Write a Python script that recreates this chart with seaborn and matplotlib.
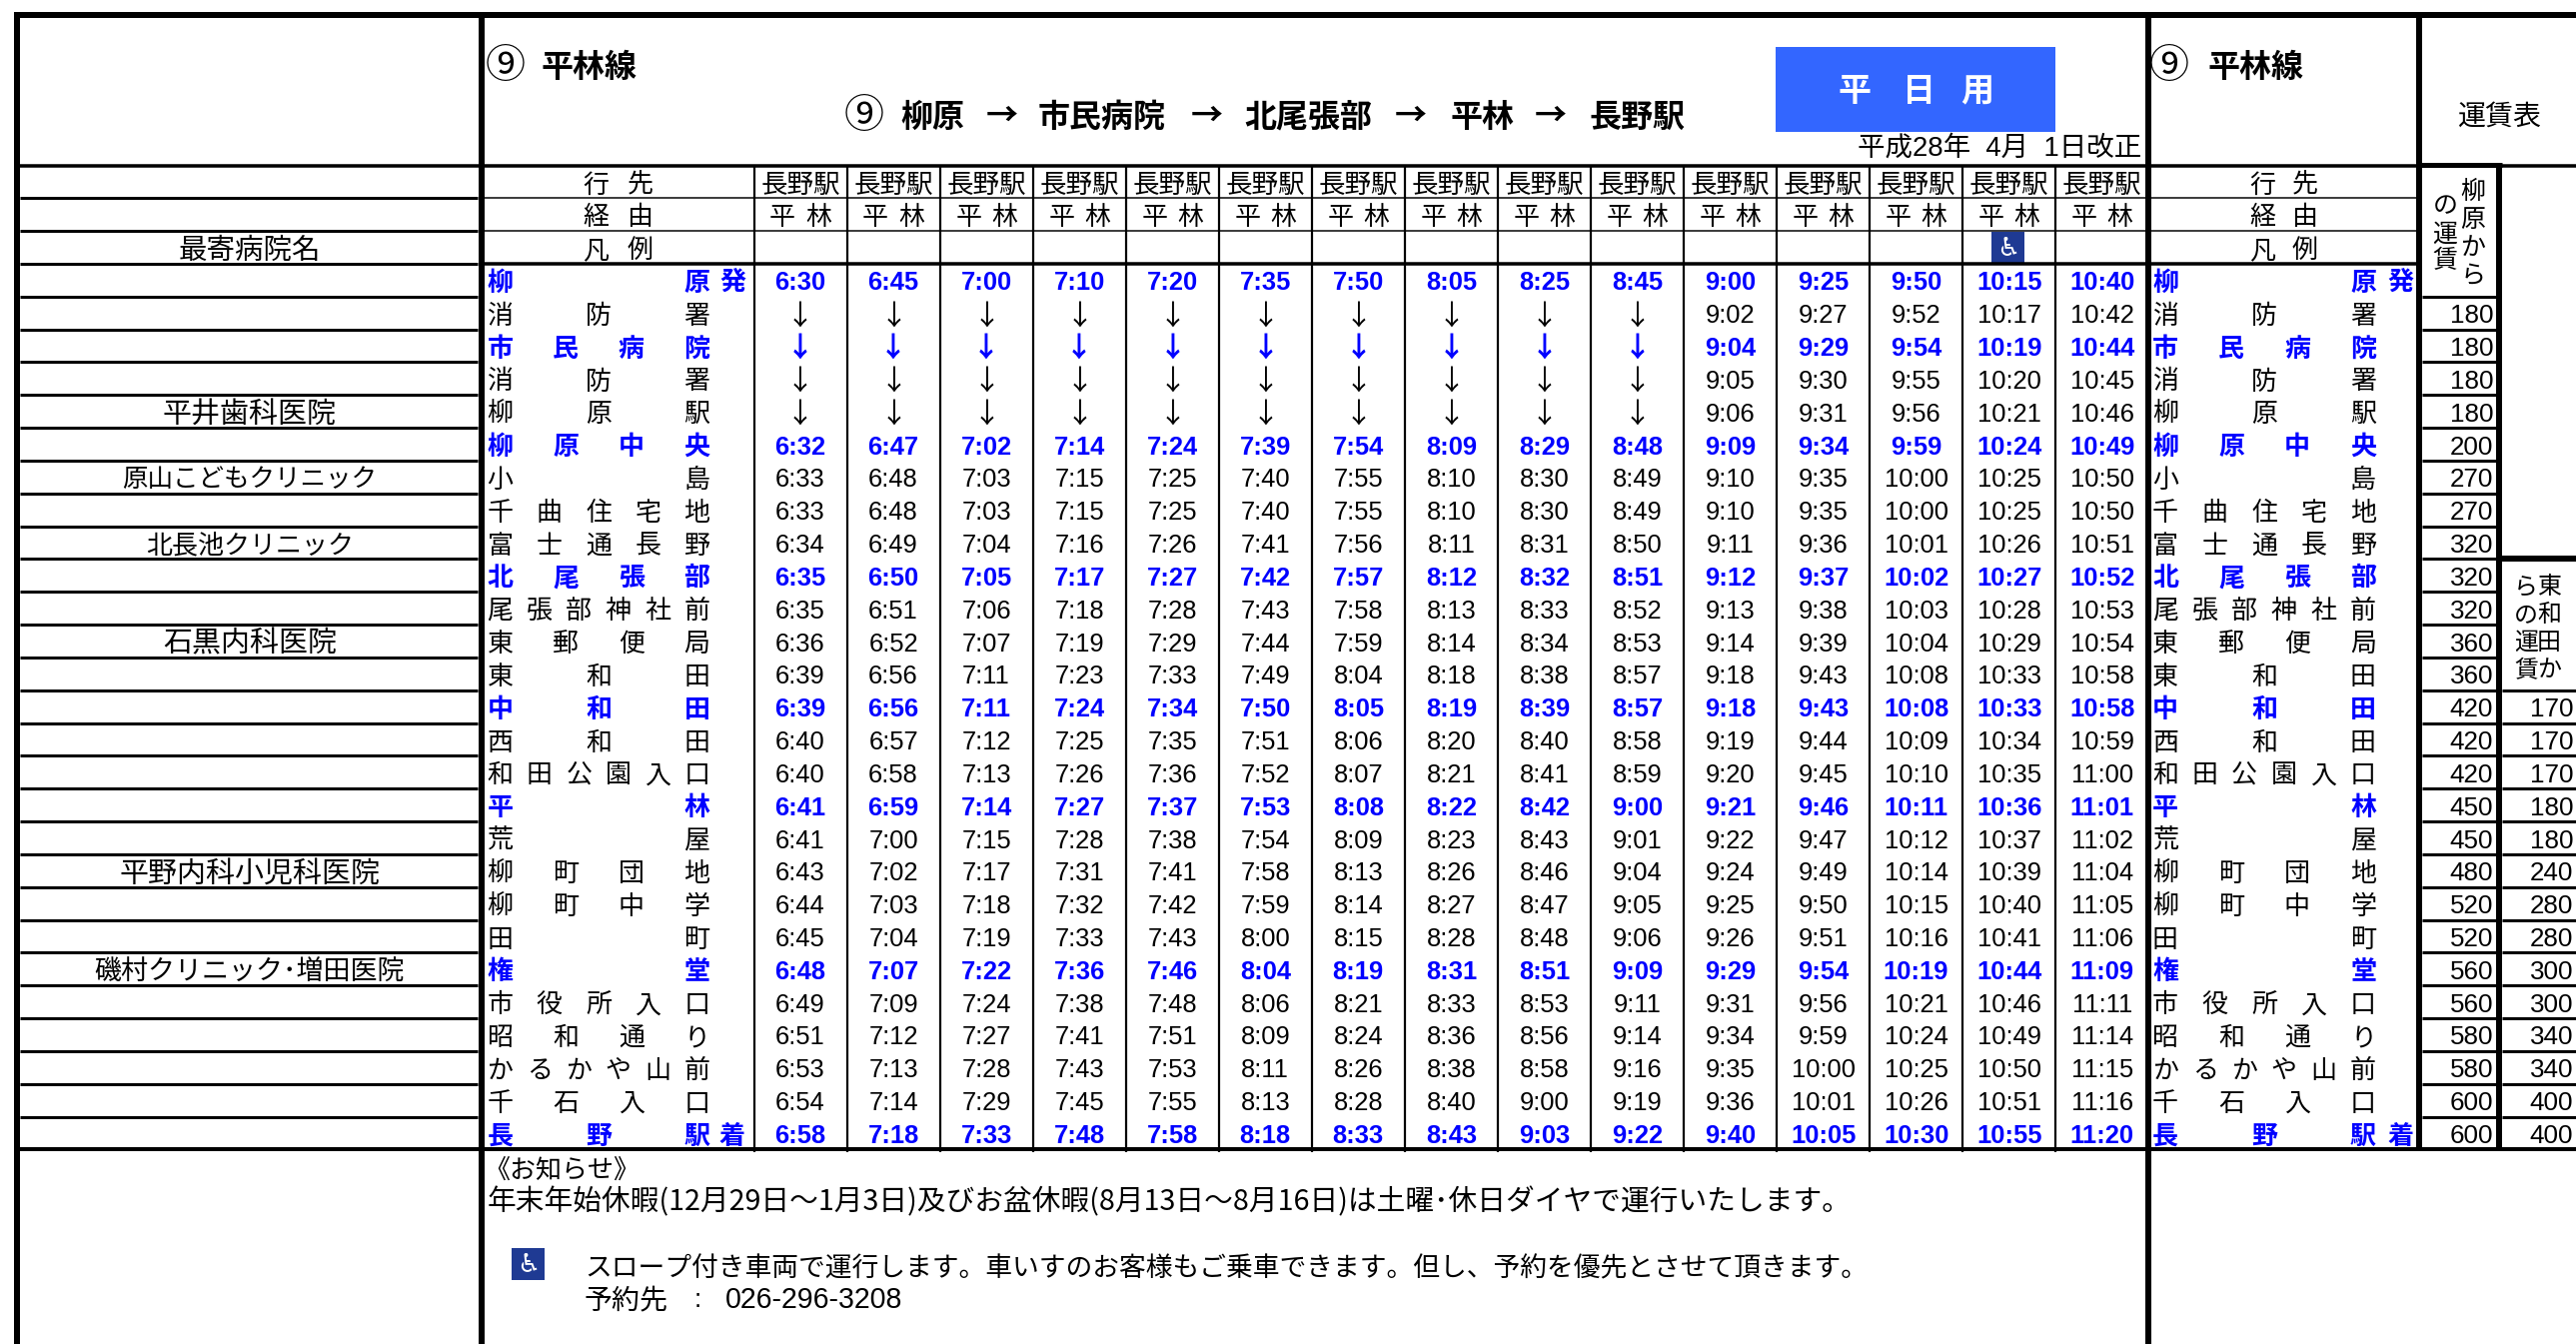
import numpy as np
import matplotlib
matplotlib.use('Agg')
import matplotlib.pyplot as plt
from matplotlib.colors import ListedColormap
from matplotlib.patches import Rectangle
import seaborn as sns

W, H = 2578, 1345
DPI = 100

# --- timetable data, "-" means the bus passes without a listed time ---
destinations = ['長野駅'] * 15
via = ['平林'] * 15
stations = ['柳原', '消防署', '市民病院', '消防署', '柳原駅', '柳原中央', '小島', '千曲住宅地', '富士通長野',
            '北尾張部', '尾張部神社前', '東郵便局', '東和田', '中和田', '西和田', '和田公園入口', '平林', '荒屋',
            '柳町団地', '柳町中学', '田町', '権堂', '市役所入口', '昭和通り', 'かるかや山前', '千石入口', '長野駅']
main_stops = [0, 2, 5, 9, 13, 16, 21, 26]

trip_01 = ['6:30', '-', '-', '-', '-', '6:32', '6:33', '6:33', '6:34', '6:35', '6:35', '6:36', '6:39', '6:39', '6:40', '6:40', '6:41', '6:41', '6:43', '6:44', '6:45', '6:48', '6:49', '6:51', '6:53', '6:54', '6:58']
trip_02 = ['6:45', '-', '-', '-', '-', '6:47', '6:48', '6:48', '6:49', '6:50', '6:51', '6:52', '6:56', '6:56', '6:57', '6:58', '6:59', '7:00', '7:02', '7:03', '7:04', '7:07', '7:09', '7:12', '7:13', '7:14', '7:18']
trip_03 = ['7:00', '-', '-', '-', '-', '7:02', '7:03', '7:03', '7:04', '7:05', '7:06', '7:07', '7:11', '7:11', '7:12', '7:13', '7:14', '7:15', '7:17', '7:18', '7:19', '7:22', '7:24', '7:27', '7:28', '7:29', '7:33']
trip_04 = ['7:10', '-', '-', '-', '-', '7:14', '7:15', '7:15', '7:16', '7:17', '7:18', '7:19', '7:23', '7:24', '7:25', '7:26', '7:27', '7:28', '7:31', '7:32', '7:33', '7:36', '7:38', '7:41', '7:43', '7:45', '7:48']
trip_05 = ['7:20', '-', '-', '-', '-', '7:24', '7:25', '7:25', '7:26', '7:27', '7:28', '7:29', '7:33', '7:34', '7:35', '7:36', '7:37', '7:38', '7:41', '7:42', '7:43', '7:46', '7:48', '7:51', '7:53', '7:55', '7:58']
trip_06 = ['7:35', '-', '-', '-', '-', '7:39', '7:40', '7:40', '7:41', '7:42', '7:43', '7:44', '7:49', '7:50', '7:51', '7:52', '7:53', '7:54', '7:58', '7:59', '8:00', '8:04', '8:06', '8:09', '8:11', '8:13', '8:18']
trip_07 = ['7:50', '-', '-', '-', '-', '7:54', '7:55', '7:55', '7:56', '7:57', '7:58', '7:59', '8:04', '8:05', '8:06', '8:07', '8:08', '8:09', '8:13', '8:14', '8:15', '8:19', '8:21', '8:24', '8:26', '8:28', '8:33']
trip_08 = ['8:05', '-', '-', '-', '-', '8:09', '8:10', '8:10', '8:11', '8:12', '8:13', '8:14', '8:18', '8:19', '8:20', '8:21', '8:22', '8:23', '8:26', '8:27', '8:28', '8:31', '8:33', '8:36', '8:38', '8:40', '8:43']
trip_09 = ['8:25', '-', '-', '-', '-', '8:29', '8:30', '8:30', '8:31', '8:32', '8:33', '8:34', '8:38', '8:39', '8:40', '8:41', '8:42', '8:43', '8:46', '8:47', '8:48', '8:51', '8:53', '8:56', '8:58', '9:00', '9:03']
trip_10 = ['8:45', '-', '-', '-', '-', '8:48', '8:49', '8:49', '8:50', '8:51', '8:52', '8:53', '8:57', '8:57', '8:58', '8:59', '9:00', '9:01', '9:04', '9:05', '9:06', '9:09', '9:11', '9:14', '9:16', '9:19', '9:22']
trip_11 = ['9:00', '9:02', '9:04', '9:05', '9:06', '9:09', '9:10', '9:10', '9:11', '9:12', '9:13', '9:14', '9:18', '9:18', '9:19', '9:20', '9:21', '9:22', '9:24', '9:25', '9:26', '9:29', '9:31', '9:34', '9:35', '9:36', '9:40']
trip_12 = ['9:25', '9:27', '9:29', '9:30', '9:31', '9:34', '9:35', '9:35', '9:36', '9:37', '9:38', '9:39', '9:43', '9:43', '9:44', '9:45', '9:46', '9:47', '9:49', '9:50', '9:51', '9:54', '9:56', '9:59', '10:00', '10:01', '10:05']
trip_13 = ['9:50', '9:52', '9:54', '9:55', '9:56', '9:59', '10:00', '10:00', '10:01', '10:02', '10:03', '10:04', '10:08', '10:08', '10:09', '10:10', '10:11', '10:12', '10:14', '10:15', '10:16', '10:19', '10:21', '10:24', '10:25', '10:26', '10:30']
trip_14 = ['10:15', '10:17', '10:19', '10:20', '10:21', '10:24', '10:25', '10:25', '10:26', '10:27', '10:28', '10:29', '10:33', '10:33', '10:34', '10:35', '10:36', '10:37', '10:39', '10:40', '10:41', '10:44', '10:46', '10:49', '10:50', '10:51', '10:55']
trip_15 = ['10:40', '10:42', '10:44', '10:45', '10:46', '10:49', '10:50', '10:50', '10:51', '10:52', '10:53', '10:54', '10:58', '10:58', '10:59', '11:00', '11:01', '11:02', '11:04', '11:05', '11:06', '11:09', '11:11', '11:14', '11:15', '11:16', '11:20']

# fares from 柳原 (starts at the 2nd stop) and from 東和田 (starts at 中和田)
fares_yanagihara = [180, 180, 180, 180, 200, 270, 270, 320, 320, 320, 360, 360, 420, 420, 420, 450, 450, 480, 520, 520, 560, 560, 580, 580, 600, 600]
fares_higashiwada = [170, 170, 170, 180, 180, 240, 280, 280, 300, 300, 340, 340, 400, 400]

# hospital name -> row in the table (0 = 行先)
hospitals = ['最寄病院名', '平井歯科医院', '原山こどもクリニック', '北長池クリニック', '石黒内科医院', '平野内科小児科医院', '磯村クリニック･増田医院']
hospital_rows = [2, 7, 9, 11, 14, 21, 24]

notice_title = '《お知らせ》'
notice_holiday = '年末年始休暇(12月29日～1月3日)及びお盆休暇(8月13日～8月16日)は土曜･休日ダイヤで運行いたします。'
notice_slope = 'スロープ付き車両で運行します。車いすのお客様もご乗車できます。但し、予約を優先とさせて頂きます。'

# --- layout in pixels of the final image ---
ROW0 = 165.5
ROW_H = 32.83
COL0 = 754.5
COL_W = 93.05
TEXT_DY = 3  # text with va=center sits this much too high
BLUE = '#0000FF'
JP = ['Noto Sans CJK JP', 'DejaVu Sans']
MIX = ['Liberation Sans', 'Noto Sans CJK JP', 'DejaVu Sans']

sns.set_theme(style='white')
plt.rcParams['font.family'] = JP


def pt(px):
    return px * 72 / DPI


def row_y(k):
    return ROW0 + k * ROW_H


def pixel_axes(x0, y0, x1, y1):
    return fig.add_axes([x0 / W, 1 - y1 / H, (x1 - x0) / W, (y1 - y0) / H])


def white_heatmap(ax, values, labels, fmt, size):
    sns.heatmap(values, ax=ax, cbar=False, annot=labels, fmt=fmt, cmap=ListedColormap(['white']),
                xticklabels=False, yticklabels=False,
                annot_kws={'fontsize': pt(size), 'family': MIX, 'color': 'black'})
    for t in ax.texts:
        t.set_y(t.get_position()[1] + TEXT_DY / ROW_H)


def minutes(label):
    if label == '-':
        return 0
    h, m = label.split(':')
    return int(h) * 60 + int(m)


fig = plt.figure(figsize=(W / DPI, H / DPI), dpi=DPI, facecolor='white')

# --- departure times ---
trips = [trip_01, trip_02, trip_03, trip_04, trip_05, trip_06, trip_07, trip_08,
         trip_09, trip_10, trip_11, trip_12, trip_13, trip_14, trip_15]
time_labels = np.array(trips).T
time_values = np.vectorize(minutes)(time_labels)
time_labels = np.where(time_labels == '-', '↓', time_labels)

ax_times = pixel_axes(COL0, row_y(3), COL0 + 15 * COL_W, row_y(30))
white_heatmap(ax_times, time_values, time_labels, '', 25.5)
for t in ax_times.texts:
    if int(t.get_position()[1]) in main_stops:
        t.set_color(BLUE)
        t.set_fontweight('bold')
    if t.get_text() == '↓':
        t.set_fontfamily(JP)
        t.set_fontsize(pt(28))

# --- fare columns ---
ax_fare1 = pixel_axes(2424, row_y(4), 2498, row_y(30))
fare1 = np.array(fares_yanagihara).reshape(-1, 1)
white_heatmap(ax_fare1, fare1, True, 'd', 26)
ax_fare2 = pixel_axes(2504, row_y(16), 2578, row_y(30))
fare2 = np.array(fares_higashiwada).reshape(-1, 1)
white_heatmap(ax_fare2, fare2, True, 'd', 26)
for ax in (ax_fare1, ax_fare2):
    for t in ax.texts:
        t.set_ha('right')
        t.set_x(0.96)

# --- everything else goes on a transparent pixel canvas above the heatmaps ---
ax = fig.add_axes([0, 0, 1, 1], zorder=5)
ax.set_xlim(0, W)
ax.set_ylim(H, 0)
ax.axis('off')
ax.patch.set_alpha(0)


def label(x, y, s, size=26, ha='center', color='black', weight='normal', family=JP):
    ax.text(x, y + TEXT_DY, s, fontsize=pt(size), ha=ha, va='center', color=color, fontweight=weight, family=family)


def hline(y, x0, x1, px):
    ax.plot([x0, x1], [y, y], color='black', lw=pt(px), solid_capstyle='butt')


def vline(x, y0, y1, px):
    ax.plot([x, x], [y0, y1], color='black', lw=pt(px), solid_capstyle='butt')


# frame
hline(15, 14, W, 6)
vline(17, 12, H, 6)
vline(481.5, 12, H, 6)
vline(2149.5, 12, H, 6)
vline(2420.5, 12, row_y(30), 6)
vline(2501, row_y(0) - 3, row_y(30), 6)
hline(row_y(0), 14, W, 3.5)
hline(row_y(30), 14, W, 4)
hline(row_y(0) - 1, 2418, 2504, 5)
hline(row_y(12), 2504, W, 6)

# left column rows
for k in range(1, 30):
    hline(row_y(k), 20, 478, 3)
# header rows across the middle and right parts
for k in (1, 2):
    hline(row_y(k), 485, 2147, 1.5)
    hline(row_y(k), 2152, 2418, 1.5)
hline(row_y(3), 485, 2418, 3.5)
# trip columns
for j in range(15):
    vline(COL0 + j * COL_W, row_y(0), row_y(30) + 3, 2.2)
# fare rows
for k in range(4, 30):
    hline(row_y(k), 2424, 2498, 3)
for k in range(16, 30):
    hline(row_y(k), 2504, W, 3)

# titles
for x0 in (486, 2151):
    label(x0, 64, '⑨', size=40, ha='left')
label(542, 65, '平林線', size=32, ha='left', weight='bold')
label(2210, 65, '平林線', size=32, ha='left', weight='bold')
label(845, 114, '⑨', size=40, ha='left')
label(901, 115, '柳原', size=32, ha='left', weight='bold')
label(1003, 115, '→', size=32, weight='bold')
label(1039, 115, '市民病院', size=32, ha='left', weight='bold')
label(1208, 115, '→', size=32, weight='bold')
label(1245, 115, '北尾張部', size=32, ha='left', weight='bold')
label(1412, 115, '→', size=32, weight='bold')
label(1452, 115, '平林', size=32, ha='left', weight='bold')
label(1552, 115, '→', size=32, weight='bold')
label(1591, 115, '長野駅', size=32, ha='left', weight='bold')

ax.add_patch(Rectangle((1777, 47), 280, 85, color='#3366FF', lw=0))
for x, s in zip((1856, 1920, 1979), '平日用'):
    label(x, 89, s, size=33, color='white', weight='bold')
label(2143, 146, '平成28年  4月  1日改正', size=27.5, ha='right', family=MIX)
label(2502, 114, '運賃表', size=28)

# row headers
for k, (a, b) in enumerate(['行先', '経由', '凡例']):
    y = row_y(k) + 16.5
    label(596, y, a)
    label(641, y, b)
    label(2264, y, a)
    label(2307, y, b)

# trip header cells
for j in range(15):
    xc = COL0 + (j + 0.5) * COL_W
    label(xc, row_y(0) + 16.5, destinations[j], size=26.5)
    label(xc - 18, row_y(1) + 16.5, via[j][0])
    label(xc + 18, row_y(1) + 16.5, via[j][1])

# station names are spread over the cell, first glyph left and last glyph right
for i, name in enumerate(stations):
    main = i in main_stops
    y = row_y(i + 3) + 16.5
    color = BLUE if main else 'black'
    weight = 'bold' if main else 'normal'
    for x0, x1, x_end in ((500.5, 697.5, 733), (2167, 2365, 2402)):
        for c, s in enumerate(name):
            label(x0 + c / (len(name) - 1) * (x1 - x0), y, s, color=color, weight=weight)
        if i == 0:
            label(x_end, y, '発', color=color, weight=weight)
        elif i == len(stations) - 1:
            label(x_end, y, '着', color=color, weight=weight)

# hospitals, the kana in the reference are narrower so the sizes differ
hospital_sizes = [28.5, 29, 25.5, 26, 29, 29, 27]
for name, k, size in zip(hospitals, hospital_rows, hospital_sizes):
    label(250, row_y(k) + 16.5, name, size=size)

# vertical fare headers
for s, y in zip('柳原から', (189, 217, 245, 273)):
    label(2475, y, s, size=25)
for s, y in zip('の運賃', (203, 232, 258)):
    label(2447, y, s, size=25)
for s, y in zip('東和田か', (585, 613, 640, 668)):
    label(2551, y, s, size=24)
for s, y in zip('らの運賃', (585, 613, 640, 668)):
    label(2528, y, s, size=24)

# wheelchair marks
for x0, y0 in ((1993, 232), (512, 1249)):
    ax.add_patch(Rectangle((x0, y0), 33, 32, color='#1F3A93', lw=0))
    label(x0 + 16.5, y0 + 13, '♿', size=26, color='white', family=['DejaVu Sans'])

# notice block
label(484, 1168, notice_title, ha='left')
label(488, 1200, notice_holiday, size=28.7, ha='left')
label(585, 1267, notice_slope, size=26.8, ha='left')
label(585, 1298, '予約先', size=28, ha='left')
label(698, 1298, ':', family=MIX)
label(726, 1298, '026-296-3208', size=28.5, ha='left', family=MIX)

fig.savefig('out.png', dpi=DPI, facecolor='white')
